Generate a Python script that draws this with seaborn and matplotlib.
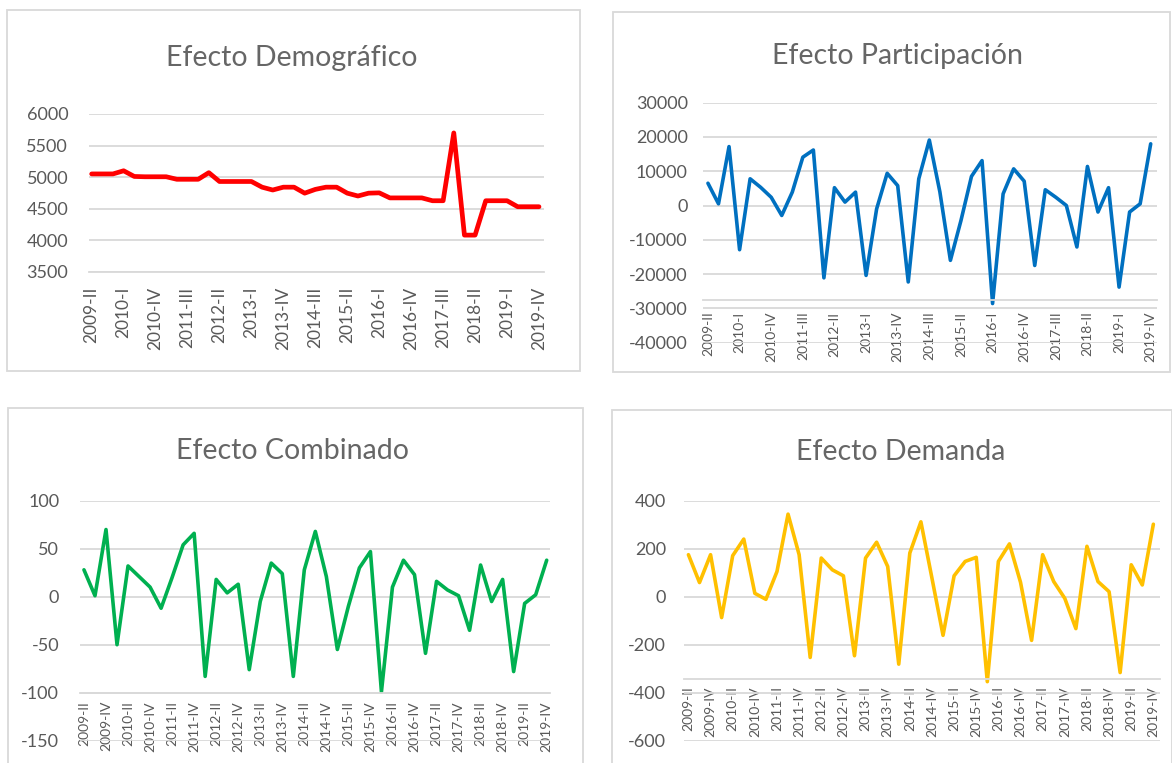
import matplotlib
matplotlib.use("Agg")
import matplotlib.pyplot as plt
import seaborn as sns
import pandas as pd
from matplotlib.patches import Rectangle

# ---------------- data ----------------
QUARTERS = [f"{y}-{q}" for y in range(2009, 2020) for q in ["I", "II", "III", "IV"]][1:]  # 2009-II .. 2019-IV

demografico = [5050, 5050, 5050, 5100, 5010, 5005, 5005, 5005, 4965, 4965, 4965,
               5070, 4930, 4930, 4930, 4930, 4840, 4795, 4840, 4840, 4745, 4805,
               4840, 4840, 4745, 4700, 4745, 4750, 4670, 4670, 4670, 4670, 4625,
               4625, 5700, 4080, 4080, 4625, 4625, 4625, 4530, 4530, 4530]

participacion = [6500, 500, 17200, -12900, 7800, 5300, 2400, -2900, 3900, 14100, 16200,
                 -21100, 5200, 1000, 3900, -20400, -1000, 9400, 5800, -22300, 7800, 19100,
                 4000, -16000, -4400, 8500, 13100, -28600, 3400, 10700, 7100, -17500, 4600,
                 2400, 0, -12100, 11400, -1900, 5200, -23800, -1900, 500, 18000]

combinado = [28, 1, 70, -50, 32, 21, 10, -12, 20, 54, 66, -83, 18, 4, 13, -76, -5, 35,
             24, -83, 28, 68, 21, -55, -10, 30, 47, -99, 10, 38, 23, -59, 16, 7, 1, -35,
             33, -5, 18, -78, -7, 2, 38]

demanda = [175, 59, 175, -87, 171, 240, 14, -11, 105, 344, 175, -253, 161, 112, 87, -246,
           161, 227, 126, -281, 182, 312, 77, -161, 87, 147, 164, -354, 147, 220, 60, -182,
           175, 63, -7, -133, 210, 63, 21, -316, 133, 49, 302]

# ---------------- style ----------------
GRID = "#D9D9D9"
TEXT = "#595959"
W, H = 1172, 763

sns.set_style("white")
plt.rcParams["font.family"] = ["Lato", "DejaVu Sans"]

fig = plt.figure(figsize=(W / 100, H / 100), dpi=100)


def px_rect(l, t, r, b):
    return [l / W, 1 - b / H, (r - l) / W, (b - t) / H]


def panel(values, color, lw, title, title_xy, box, area, xlim, yticks, spine_at,
          step, xfs, xpad, ypad):
    # chart frame (Excel chart border)
    l, t, r, b = box
    fig.patches.append(Rectangle((l / W, 1 - b / H), (r - l) / W, (b - t) / H,
                                 transform=fig.transFigure, fill=False,
                                 edgecolor=GRID, lw=1.3))
    fig.text(title_xy[0] / W, 1 - title_xy[1] / H, title, ha="center", va="center",
             fontsize=20.5, color="#666666")

    ax = fig.add_axes(px_rect(*area))
    # move the category axis first (this resets the ticks)
    for s in ["left", "right", "top"]:
        ax.spines[s].set_visible(False)
    ax.spines["bottom"].set_position(("data", spine_at))
    ax.spines["bottom"].set_color(GRID)
    ax.spines["bottom"].set_linewidth(1.3)

    df = pd.DataFrame({"q": range(len(values)), "v": values})
    sns.lineplot(data=df, x="q", y="v", color=color, linewidth=lw, ax=ax)

    ax.set_xlim(*xlim)
    ax.set_ylim(yticks[0], yticks[-1])
    ax.set_yticks(yticks)
    ax.set_yticklabels([str(v) for v in yticks])
    pos = list(range(0, len(QUARTERS), step))
    ax.set_xticks(pos)
    ax.set_xticklabels([QUARTERS[i] for i in pos])

    ax.set_xlabel("")
    ax.set_ylabel("")
    ax.yaxis.grid(True, color=GRID, lw=1.3)
    ax.set_axisbelow(True)
    ax.tick_params(axis="y", length=0, pad=ypad, labelsize=13, labelcolor=TEXT)
    ax.tick_params(axis="x", length=0, pad=xpad, labelsize=xfs, labelcolor=TEXT,
                   labelrotation=90)
    ax.set_facecolor("none")
    return ax


panel(demografico, "#FF0000", 3.4, "Efecto Demográfico", (292, 58),
      (7, 10, 580, 371), (89, 114, 544, 271.7), (-0.25, 42.47),
      [3500, 4000, 4500, 5000, 5500, 6000], 3500, 3, 12.5, 11, 15)

panel(participacion, "#0070C0", 2.6, "Efecto Participación", (898, 56),
      (613, 12, 1170, 372), (703, 102.7, 1156.7, 342.6), (-0.47, 42.57),
      [-40000, -30000, -20000, -10000, 0, 10000, 20000, 30000], -27700, 3, 10, 8, 11)

panel(combinado, "#00B050", 2.6, "Efecto Combinado", (293, 451),
      (8, 408, 583, 775), (80, 500.7, 550, 740.7), (-0.36, 42.3),
      [-150, -100, -50, 0, 50, 100], -100, 2, 10, 6, 15)

panel(demanda, "#FFC000", 2.6, "Efecto Demanda", (901, 452),
      (612, 410, 1172, 775), (684, 500.7, 1160, 740.7), (-0.4, 42.6),
      [-600, -400, -200, 0, 200, 400], -344, 2, 10, 5, 13)

fig.savefig("out.png", dpi=100, facecolor="white")
